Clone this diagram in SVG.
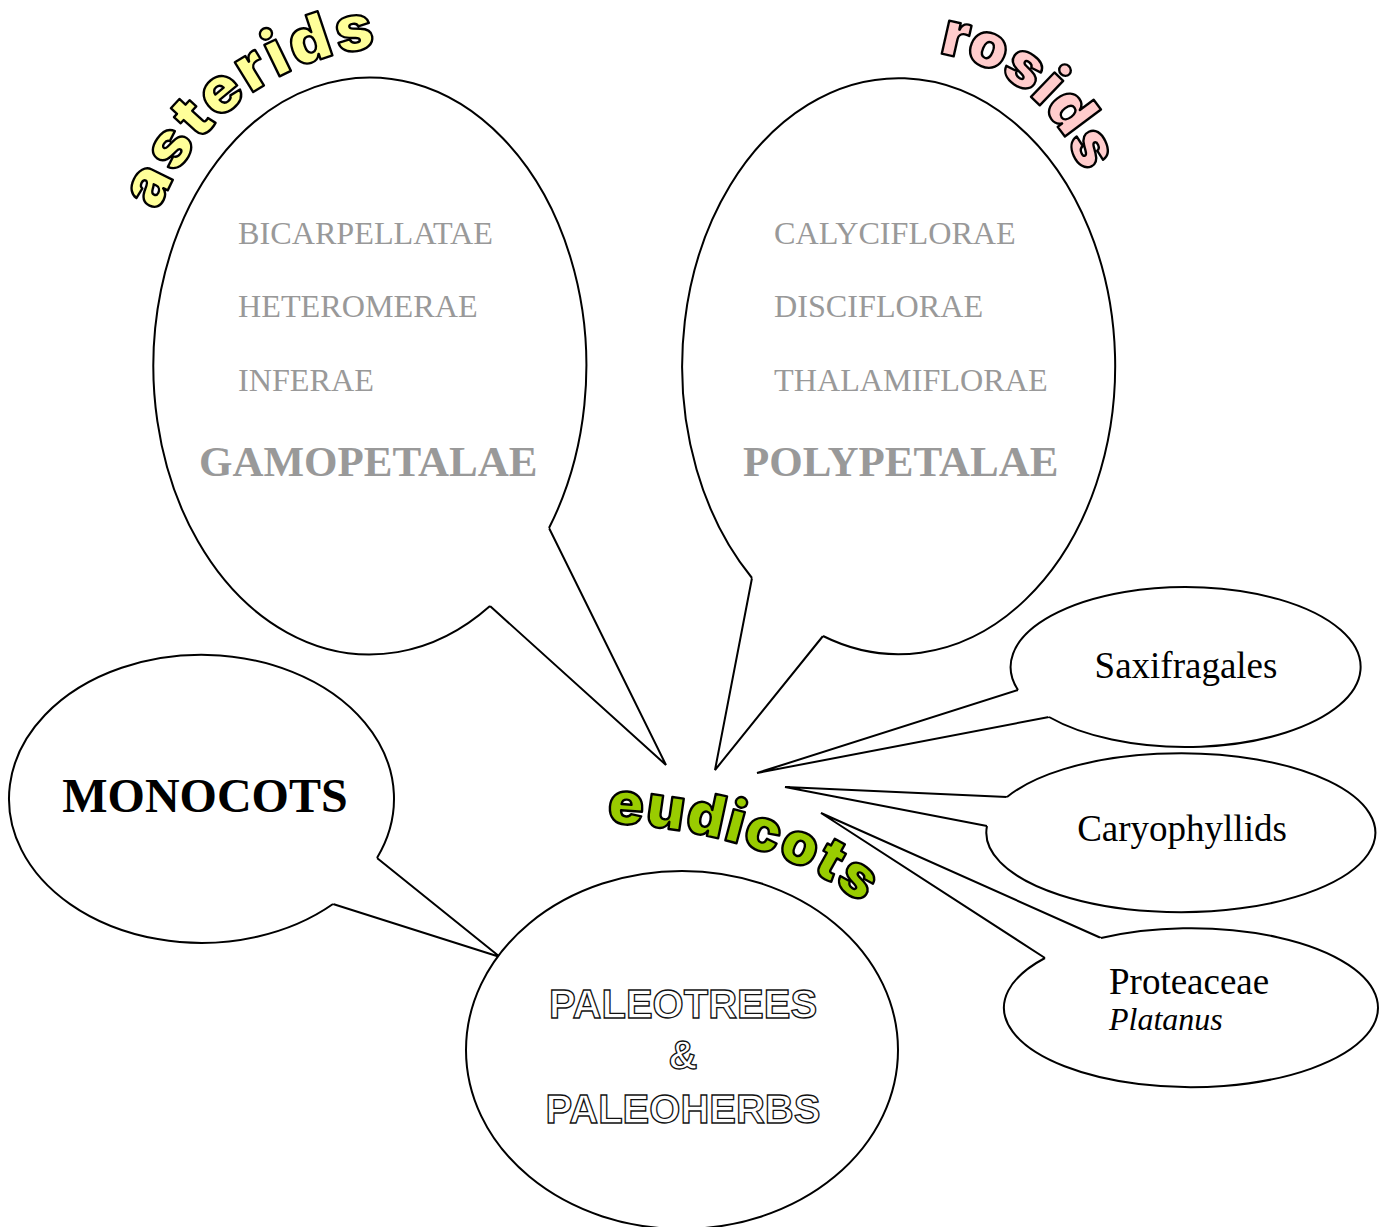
<svg xmlns="http://www.w3.org/2000/svg" width="1382" height="1227" viewBox="0 0 1382 1227">
<style>
  .bubble { fill: #ffffff; stroke: #000000; stroke-width: 2; }
  .tail { fill: none; stroke: #000000; stroke-width: 2; stroke-linejoin: miter; }
  .sub { font-family: "Liberation Serif", "Times New Roman", serif; font-size: 32.2px; fill: #999999; }
  .grp { font-family: "Liberation Serif", "Times New Roman", serif; font-size: 43px; font-weight: bold; fill: #999999; }
  .name { font-family: "Liberation Serif", "Times New Roman", serif; font-size: 37px; fill: #000000; }
  .latin { font-family: "Liberation Serif", "Times New Roman", serif; font-size: 32px; font-style: italic; fill: #000000; }
  .mono { font-family: "Liberation Serif", "Times New Roman", serif; font-size: 48px; font-weight: bold; fill: #000000; }
  .hollow { font-family: "Liberation Sans", Arial, sans-serif; font-size: 40px; font-weight: bold; fill: #ffffff; stroke: #111111; stroke-width: 1.3; text-anchor: middle; }
  .arch { font-family: Inter, "DejaVu Sans", sans-serif; font-weight: 900; stroke: #000000; stroke-width: 2.4; stroke-linejoin: round; }
</style>
<defs>
  <path id="arcAsterids" d="M 148.9 239.7 A 260 260 0 0 1 422.7 48.0"/>
  <path id="arcRosids" d="M 880.4 54.1 A 179 179 0 0 1 1090.5 230.4"/>
  <path id="arcEudicots" d="M 600 823 C 700 825 825 860 870 915"/>
</defs>
<rect width="1382" height="1227" fill="#ffffff"/>

<g id="connectors">
  <polyline class="tail" points="549,528 666,765 490,606"/>
  <polyline class="tail" points="752,578 715,770 823,636"/>
  <polyline class="tail" points="377,858 500,957 333,904"/>
  <polyline class="tail" points="1018,690 757,773 1049,717"/>
  <polyline class="tail" points="1007,797 785,787 987,826"/>
  <polyline class="tail" points="1101,938 821,813 1045,958"/>
</g>

<g id="node-asterids">
  <path class="bubble" d="M 490 606 A 216.5 288.5 0 1 1 549 528"/>
  <text class="sub" x="238" y="244">BICARPELLATAE</text>
  <text class="sub" x="238" y="317">HETEROMERAE</text>
  <text class="sub" x="238" y="391">INFERAE</text>
  <text class="grp" x="199" y="476">GAMOPETALAE</text>
  <text class="arch" font-size="64" letter-spacing="3" fill="#ffff99"><textPath href="#arcAsterids" startOffset="48%" text-anchor="middle">asterids</textPath></text>
</g>

<g id="node-rosids">
  <path class="bubble" d="M 752 578 A 216.5 288 0 1 1 823 636"/>
  <text class="sub" x="774" y="244">CALYCIFLORAE</text>
  <text class="sub" x="774" y="317">DISCIFLORAE</text>
  <text class="sub" x="774" y="391">THALAMIFLORAE</text>
  <text class="grp" x="743" y="476">POLYPETALAE</text>
  <text class="arch" font-size="62" fill="#ffcccc"><textPath href="#arcRosids" startOffset="50%" text-anchor="middle">rosids</textPath></text>
</g>

<g id="node-monocots">
  <path class="bubble" d="M 333 904 A 192.5 144 0 1 1 377 858"/>
  <text class="mono" x="205" y="812" text-anchor="middle">MONOCOTS</text>
</g>

<g id="node-paleo">
  <ellipse class="bubble" cx="682" cy="1050" rx="216" ry="179"/>
  <text class="hollow" x="683" y="1018">PALEOTREES</text>
  <text class="hollow" x="683" y="1069">&amp;</text>
  <text class="hollow" x="683" y="1123">PALEOHERBS</text>
</g>

<g id="node-eudicots">
  <text class="arch" font-size="59" letter-spacing="1.5" fill="#99cc00"><textPath href="#arcEudicots" startOffset="7">eudicots</textPath></text>
</g>

<g id="node-saxifragales">
  <path class="bubble" d="M 1018 690 A 175 80 0 1 1 1049 717"/>
  <text class="name" x="1186" y="678" text-anchor="middle">Saxifragales</text>
</g>

<g id="node-caryophyllids">
  <path class="bubble" d="M 1007 797 A 194.5 79.5 0 1 1 987 826"/>
  <text class="name" x="1182" y="841" text-anchor="middle">Caryophyllids</text>
</g>

<g id="node-proteaceae">
  <path class="bubble" d="M 1101 938 A 187 79.5 0 1 1 1045 958"/>
  <text class="name" x="1109" y="994">Proteaceae</text>
  <text class="latin" x="1109" y="1030">Platanus</text>
</g>
</svg>
